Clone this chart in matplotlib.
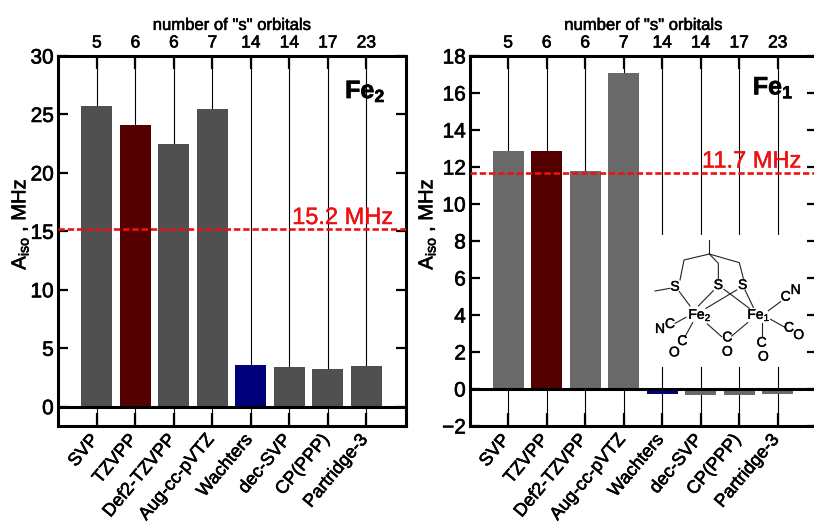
import matplotlib
matplotlib.use('Agg')
import matplotlib.pyplot as plt
import matplotlib.patheffects as pe
from matplotlib.transforms import ScaledTranslation
import numpy as np

plt.rcParams['font.family'] = ['Liberation Sans', 'DejaVu Sans']
plt.rcParams['mathtext.fontset'] = 'custom'
plt.rcParams['mathtext.rm'] = 'Liberation Sans'
plt.rcParams['mathtext.bf'] = 'Liberation Sans:bold'
plt.rcParams['mathtext.default'] = 'regular'

# data
basis_sets = ['SVP', 'TZVPP', 'Def2-TZVPP', 'Aug-cc-pVTZ', 'Wachters', 'dec-SVP', 'CP(PPP)', 'Partridge-3']
s_orbitals = ['5', '6', '6', '7', '14', '14', '17', '23']
fe2_values = [25.7, 24.1, 22.5, 25.5, 3.6, 3.4, 3.2, 3.5]
fe1_values = [12.85, 12.85, 11.8, 17.1, -0.25, -0.3, -0.3, -0.25]
fe2_exp = 15.2
fe1_exp = 11.7
fe2_ticks = [0, 5, 10, 15, 20, 25, 30]
fe1_ticks = [-2, 0, 2, 4, 6, 8, 10, 12, 14, 16, 18]

W, H = 814, 523
fig = plt.figure(figsize=(W / 100, H / 100), dpi=100)


def px_axes(left, top, right, bottom):
    return fig.add_axes([left / W, 1 - bottom / H, (right - left) / W, (bottom - top) / H])


def heavy(t, width=0.45):
    # the original text looks a bit heavier than plain regular
    t.set_path_effects([pe.withStroke(linewidth=width, foreground=t.get_color())])


def draw_panel(ax, values, ticks, ylim, xlim, gray, exp, exp_label, exp_x, name, name_x, name_y):
    x = np.arange(1, 9)
    colors = [gray, '#550000', gray, gray, '#00007b', gray, gray, gray]
    ax.vlines(x, ylim[0], ylim[1], color='black', lw=0.8, zorder=1)
    ax.bar(x, values, width=0.8, color=colors, zorder=2)
    ax.axhline(0, color='black', lw=2.2, zorder=3)
    ax.axhline(exp, color='#ee1111', lw=1.9, ls=(0, (2.4, 1.1)), zorder=4)
    ax.set_xlim(xlim)
    ax.set_ylim(ylim)
    ax.set_yticks(ticks)
    ax.set_xticks(x)
    ax.set_xticklabels(basis_sets, rotation=50, ha='right', va='top', rotation_mode='anchor', fontsize=13)
    ax.tick_params(axis='y', direction='in', length=7.5, width=1.6, right=True, labelsize=15, pad=3)
    ax.tick_params(axis='x', direction='in', length=9.5, width=1.6, pad=4)
    for s in ax.spines.values():
        s.set_linewidth(2.2)
    t = ax.text(exp_x, exp + 0.0, exp_label, color='#ee1111', fontsize=17, ha='right', va='bottom',
                transform=ax.get_yaxis_transform(), zorder=5)
    heavy(t, 0.3)
    n = ax.text(name_x, name_y, name, fontsize=18, fontweight='bold', ha='left', va='center',
                transform=ax.transAxes, zorder=5)
    heavy(n, 0.5)
    shift = ScaledTranslation(-8 / 100, 0, fig.dpi_scale_trans)
    for t in ax.get_xticklabels():
        t.set_transform(t.get_transform() + shift)
        heavy(t)
    for t in ax.get_yticklabels():
        heavy(t)

    top = ax.twiny()
    top.set_xlim(xlim)
    top.set_xticks(x)
    top.set_xticklabels(s_orbitals, fontsize=12.5)
    top.tick_params(axis='x', direction='in', length=9.5, width=1.6, pad=4)
    top.set_xlabel('number of "s" orbitals', fontsize=12, labelpad=4)
    heavy(top.xaxis.label, 0.4)
    for t in top.get_xticklabels():
        heavy(t)
    for s in top.spines.values():
        s.set_visible(False)


ax1 = px_axes(58, 56, 406, 426)
draw_panel(ax1, fe2_values, fe2_ticks, (-1.65, 30), (-0.01, 9.03), '#505050', fe2_exp, '15.2 MHz', 0.963,
           r'$\mathbf{Fe_2}$', 0.825, 0.905)
ax2 = px_axes(470, 56, 817, 426)
draw_panel(ax2, fe1_values, fe1_ticks, (-2, 18), (0.01, 9.02), '#696969', fe1_exp, '11.7 MHz', 0.955,
           r'$\mathbf{Fe_1}$', 0.815, 0.915)
for lx in (20, 427):
    lab = fig.text(lx / W, 1 - 224 / H, r'A$_{iso}$ , MHz', rotation=90, fontsize=14.5, ha='center', va='center')
    heavy(lab)

# molecule sketch on a white patch over the right panel
mol = px_axes(640, 235, 805, 367)
mol.set_xlim(60, 555)
mol.set_ylim(441, 45)
mol.set_xticks([])
mol.set_yticks([])
for s in mol.spines.values():
    s.set_visible(False)
bonds = [
    [(268, 60), (268, 102)], [(268, 102), (192, 120), (180, 180)], [(268, 102), (295, 130), (295, 178)],
    [(268, 102), (358, 128), (370, 175)], [(105, 213), (150, 205)], [(178, 215), (210, 258)],
    [(280, 212), (235, 258)], [(312, 208), (388, 265)], [(375, 210), (400, 262)], [(350, 210), (258, 265)],
    [(198, 292), (165, 310)], [(218, 308), (195, 350)], [(262, 312), (305, 350)], [(383, 308), (335, 348)],
    [(445, 272), (482, 245)], [(425, 310), (425, 350)], [(452, 298), (495, 322)],
]
for b in bonds:
    pts = np.array(b)
    mol.plot(pts[:, 0], pts[:, 1], color='#222222', lw=0.8)
atoms = [('S', 165, 200), ('S', 295, 195), ('S', 368, 195), ('C', 497, 230), ('N', 527, 210), ('N', 120, 327),
         ('C', 150, 312), ('C', 187, 363), ('O', 163, 397), ('C', 322, 352), ('O', 322, 395), ('C', 425, 368),
         ('O', 430, 410), ('C', 507, 323), ('O', 536, 345), ('Fe$_2$', 240, 285), ('Fe$_1$', 417, 285)]
for label, ax_x, ax_y in atoms:
    t = mol.text(ax_x, ax_y, label, fontsize=10, ha='center', va='center')
    heavy(t, 0.3)

fig.savefig('out.png', dpi=100)
